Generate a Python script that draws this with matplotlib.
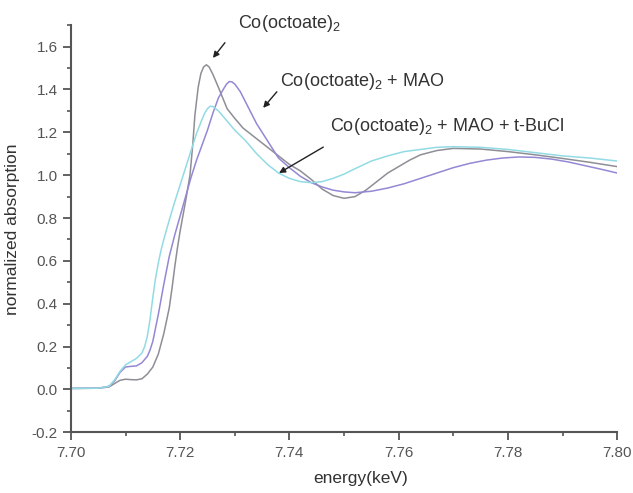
import matplotlib
matplotlib.use("Agg")
import matplotlib.pyplot as plt
from matplotlib.ticker import MultipleLocator

plt.rcParams['font.family'] = ['Liberation Sans', 'DejaVu Sans']
plt.rcParams['mathtext.fontset'] = 'custom'
plt.rcParams['mathtext.rm'] = 'Liberation Sans'
plt.rcParams['mathtext.it'] = 'Liberation Sans'

# Co(octoate)2
e_co = [7.700, 7.705, 7.707, 7.708, 7.709, 7.710, 7.711, 7.712, 7.713, 7.714,
        7.715, 7.716, 7.717, 7.718, 7.7185, 7.719, 7.7195, 7.720, 7.721, 7.7218,
        7.7223, 7.7227, 7.7233, 7.7238, 7.7243, 7.7248, 7.7253, 7.726, 7.727, 7.7286,
        7.730, 7.7315, 7.734, 7.736, 7.738, 7.740, 7.742, 7.744, 7.746, 7.748,
        7.750, 7.752, 7.754, 7.756, 7.758, 7.760, 7.762, 7.764, 7.767, 7.770,
        7.775, 7.780, 7.785, 7.790, 7.795, 7.800]
a_co = [0.005, 0.006, 0.012, 0.028, 0.043, 0.048, 0.046, 0.045, 0.050, 0.072,
        0.105, 0.165, 0.26, 0.38, 0.47, 0.57, 0.66, 0.74, 0.88, 1.00,
        1.14, 1.28, 1.41, 1.475, 1.505, 1.515, 1.505, 1.47, 1.41, 1.31,
        1.265, 1.22, 1.17, 1.13, 1.09, 1.05, 1.02, 0.98, 0.935, 0.905,
        0.892, 0.90, 0.93, 0.97, 1.01, 1.04, 1.07, 1.095, 1.115, 1.125,
        1.122, 1.11, 1.095, 1.078, 1.06, 1.04]

# Co(octoate)2 + MAO
e_mao = [7.700, 7.705, 7.707, 7.708, 7.709, 7.710, 7.711, 7.712, 7.713, 7.714,
         7.7145, 7.715, 7.716, 7.717, 7.718, 7.719, 7.720, 7.721, 7.722, 7.723,
         7.724, 7.725, 7.726, 7.727, 7.728, 7.7285, 7.729, 7.7295, 7.730, 7.731,
         7.732, 7.733, 7.734, 7.736, 7.738, 7.740, 7.742, 7.744, 7.746, 7.748,
         7.750, 7.752, 7.755, 7.758, 7.761, 7.764, 7.767, 7.770, 7.773, 7.776,
         7.779, 7.782, 7.785, 7.788, 7.791, 7.794, 7.797, 7.800]
a_mao = [0.005, 0.006, 0.015, 0.04, 0.08, 0.105, 0.108, 0.11, 0.125, 0.155,
         0.185, 0.225, 0.35, 0.49, 0.62, 0.72, 0.81, 0.90, 0.99, 1.07,
         1.14, 1.21, 1.29, 1.36, 1.405, 1.425, 1.437, 1.435, 1.425, 1.39,
         1.34, 1.29, 1.24, 1.16, 1.08, 1.035, 0.995, 0.965, 0.945, 0.93,
         0.922, 0.918, 0.925, 0.94, 0.96, 0.985, 1.01, 1.035, 1.055, 1.07,
         1.08, 1.085, 1.083, 1.075, 1.062, 1.045, 1.028, 1.01]

# Co(octoate)2 + MAO + t-BuCl
e_bucl = [7.700, 7.705, 7.707, 7.708, 7.709, 7.710, 7.711, 7.712, 7.713, 7.7135,
          7.714, 7.7145, 7.715, 7.7155, 7.716, 7.7165, 7.717, 7.718, 7.719, 7.720,
          7.721, 7.722, 7.723, 7.724, 7.7245, 7.725, 7.7255, 7.726, 7.727, 7.728,
          7.730, 7.732, 7.734, 7.736, 7.738, 7.740, 7.742, 7.744, 7.746, 7.748,
          7.750, 7.752, 7.755, 7.758, 7.761, 7.764, 7.767, 7.770, 7.775, 7.780,
          7.785, 7.790, 7.795, 7.800]
a_bucl = [0.005, 0.006, 0.015, 0.045, 0.085, 0.115, 0.13, 0.145, 0.17, 0.20,
          0.25, 0.33, 0.43, 0.52, 0.59, 0.65, 0.70, 0.79, 0.875, 0.955,
          1.035, 1.115, 1.195, 1.26, 1.29, 1.31, 1.322, 1.32, 1.30, 1.27,
          1.21, 1.16, 1.10, 1.05, 1.01, 0.985, 0.97, 0.965, 0.97, 0.985,
          1.005, 1.03, 1.066, 1.09, 1.11, 1.12, 1.13, 1.133, 1.13, 1.12,
          1.105, 1.09, 1.08, 1.066]

fig = plt.figure(figsize=(6.33, 4.93), dpi=100)
ax = fig.add_axes([0.112, 0.123, 0.863, 0.826])

ax.plot(e_co, a_co, color='#8e8e96', lw=1.1)
ax.plot(e_mao, a_mao, color='#9488d4', lw=1.1)
ax.plot(e_bucl, a_bucl, color='#92dbe4', lw=1.1)

ax.set_xlim(7.70, 7.80)
ax.set_ylim(-0.2, 1.7)
ax.xaxis.set_minor_locator(MultipleLocator(0.01))
ax.yaxis.set_minor_locator(MultipleLocator(0.1))
ax.set_xticks([7.70, 7.72, 7.74, 7.76, 7.78, 7.80])
ax.set_xticklabels(['7.70', '7.72', '7.74', '7.76', '7.78', '7.80'])
ax.set_yticks([-0.2, 0.0, 0.2, 0.4, 0.6, 0.8, 1.0, 1.2, 1.4, 1.6])
ax.set_yticklabels(['-0.2', '0.0', '0.2', '0.4', '0.6', '0.8', '1.0', '1.2', '1.4', '1.6'])

for s in ['top', 'right']:
    ax.spines[s].set_visible(False)
for s in ['left', 'bottom']:
    ax.spines[s].set_color('#555555')
    ax.spines[s].set_linewidth(1.5)
ax.tick_params(which='major', direction='out', length=6, width=1.3, color='#555555',
               labelsize=11, labelcolor='#555555')
ax.tick_params(which='minor', direction='out', length=3, width=1.2, color='#555555')

ax.set_xlabel('energy(keV)', fontsize=12.5, color='#333333')
ax.xaxis.set_label_coords(0.53, -0.095)
ax.set_ylabel('normalized absorption', fontsize=12.5, color='#333333', labelpad=8)

txt = dict(fontsize=13, color='#333333', ha='left', va='baseline')
ax.text(7.7306, 1.688, r'Co(octoate)$_2$', **txt)
ax.text(7.7383, 1.417, r'Co(octoate)$_2$ + MAO', **txt)
ax.text(7.7474, 1.206, r'Co(octoate)$_2$ + MAO + t-BuCl', **txt)

arrow = dict(arrowstyle='-|>', color='#222222', lw=1.0, mutation_scale=9, shrinkA=0, shrinkB=0)
ax.annotate('', xy=(7.7260, 1.547), xytext=(7.7282, 1.618), arrowprops=arrow)
ax.annotate('', xy=(7.7352, 1.314), xytext=(7.7377, 1.389), arrowprops=arrow)
ax.annotate('', xy=(7.7381, 1.010), xytext=(7.7462, 1.131), arrowprops=arrow)

fig.savefig('out.png', dpi=100)
